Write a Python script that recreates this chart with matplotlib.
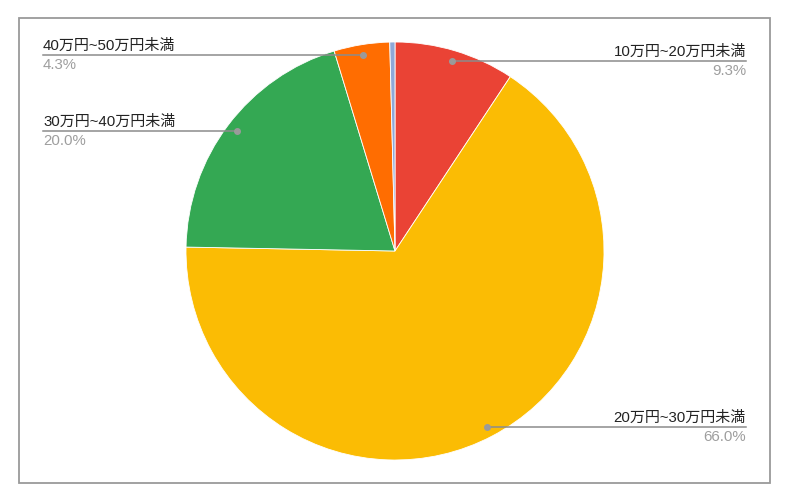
import numpy as np
import matplotlib
matplotlib.use('Agg')
import matplotlib.pyplot as plt
from matplotlib.patches import Rectangle

plt.rcParams['font.family'] = ['Liberation Sans', 'Noto Sans CJK JP', 'DejaVu Sans']

# slices clockwise from 12 o'clock
categories = ['10万円~20万円未満', '20万円~30万円未満', '30万円~40万円未満',
              '40万円~50万円未満', '']
shares = [9.3, 66.0, 20.0, 4.3, 0.4]
colors = ['#EA4335', '#FBBC04', '#34A853', '#FF6D01', '#8fa8d8']

W, H = 791, 499
fig = plt.figure(figsize=(W / 100, H / 100), dpi=100)
ax = fig.add_axes([0, 0, 1, 1])
ax.set_xlim(0, W)
ax.set_ylim(0, H)
ax.set_aspect('equal')
ax.axis('off')

# outer frame
ax.add_patch(Rectangle((19, H - 483), 751, 465, fill=False,
                       edgecolor='#9a9a9a', linewidth=1.3))

cx, cy, r = 395, H - 251, 209
wedges, _ = ax.pie(shares, colors=colors, startangle=90, counterclock=False,
                   center=(cx, cy), radius=r,
                   wedgeprops=dict(edgecolor='white', linewidth=0.6))
ax.set_xlim(0, W)
ax.set_ylim(0, H)

left_x, right_x = 43, 746
for w, cat, s in zip(wedges, categories, shares):
    if not cat:
        continue
    mid = np.deg2rad((w.theta1 + w.theta2) / 2)
    px = cx + 0.95 * r * np.cos(mid)
    py = cy + 0.95 * r * np.sin(mid)
    if px > cx:
        tx, ha = right_x, 'right'
    else:
        tx, ha = left_x, 'left'
    ax.plot([px, tx], [py, py], color='#8c8c8c', linewidth=1.1, zorder=3)
    ax.plot(px, py, 'o', color='#9a9a9a', markersize=4, zorder=4)
    ax.text(tx, py + 2, cat, ha=ha, va='bottom', fontsize=10.8,
            color='#222222')
    ax.text(tx, py - 3, f'{s:.1f}%', ha=ha, va='top', fontsize=10.8,
            color='#9e9e9e')

fig.savefig('out.png', dpi=100, facecolor='white')
